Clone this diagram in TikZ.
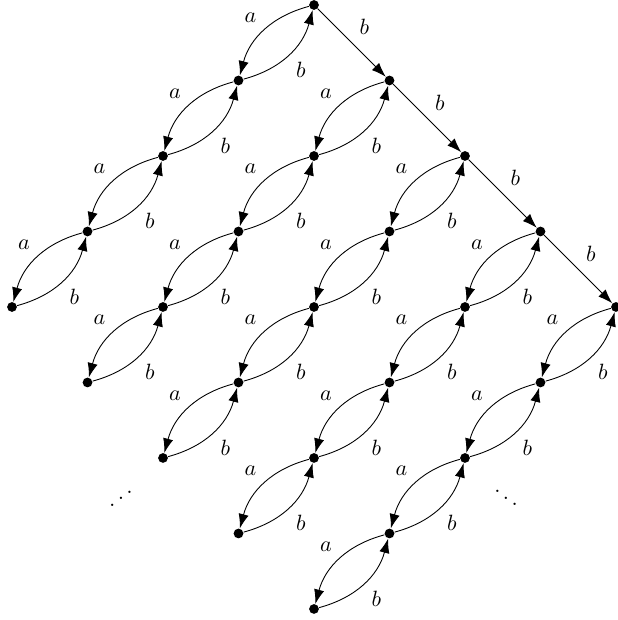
\documentclass[tikz,border=0pt]{standalone}
\usepackage{graphicx}
\usetikzlibrary{arrows.meta}
\begin{document}
\begin{tikzpicture}[x=1.2cm,y=1.2cm,
  dot/.style={circle,fill,inner sep=0pt,minimum size=4.4pt},
  arr/.style={-{Latex[length=6.5pt,width=4.6pt]}}]
\useasboundingbox (-4.159,0.066) rectangle (4.026,-8.146);

% grid of vertices
\foreach \i in {0,...,4}
  \foreach \j in {0,...,4}
    \node[dot] (v\i\j) at (\i-\j,-\i-\j) {};

% b-edges along the top
\foreach \i/\k in {0/1,1/2,2/3,3/4}
  \draw[arr] (v\i0) -- node[above right] {$b$} (v\k0);

% a/b pairs down each chain
\foreach \i in {0,...,4}
  \foreach \j/\k in {0/1,1/2,2/3,3/4} {
    \draw[arr] (v\i\j) to[bend right=30] node[above left] {$a$} (v\i\k);
    \draw[arr] (v\i\k) to[bend right=30] node[below right] {$b$} (v\i\j);
  }

\node (ldots) at (-2.556,-6.45) {\reflectbox{$\ddots$}};
\node (rdots) at (2.543,-6.44) {$\ddots$};
\end{tikzpicture}
\end{document}
